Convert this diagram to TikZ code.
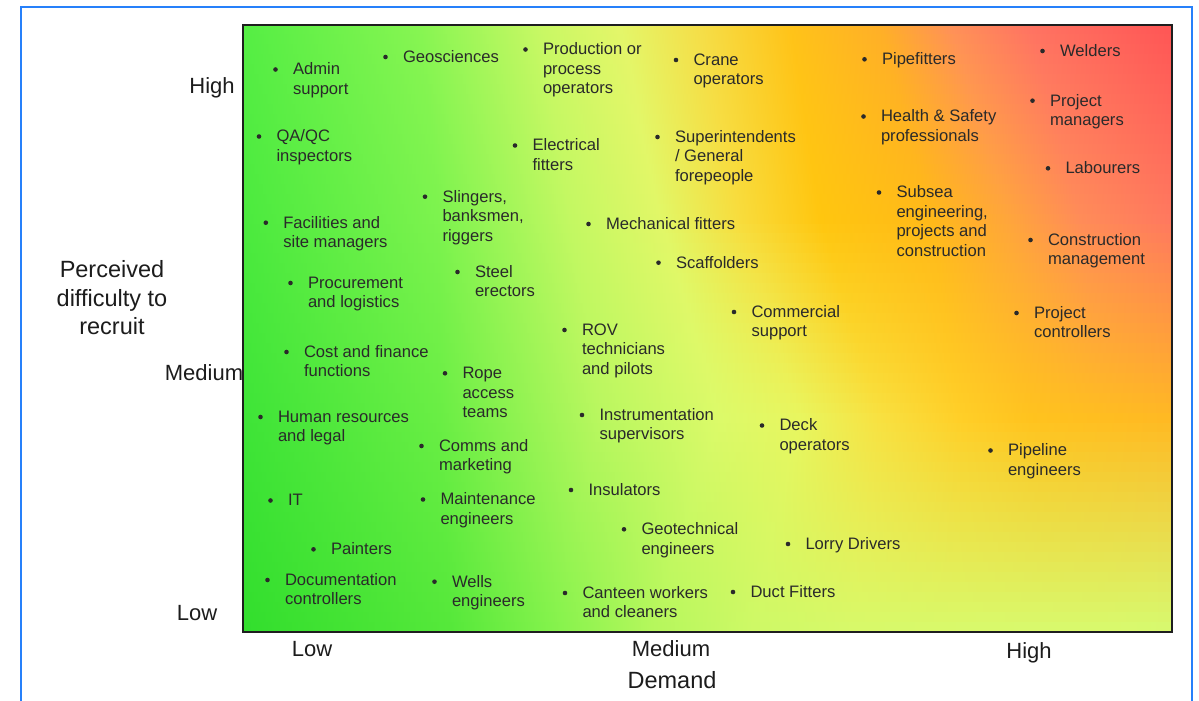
\documentclass[tikz,border=0pt]{standalone}
\usepackage{fontspec}
\usepackage{graphicx}
\setmainfont{Liberation Sans}
\definecolor{framecol}{RGB}{38,128,250}
\definecolor{jobcol}{RGB}{42,42,42}
\definecolor{lblcol}{RGB}{28,28,28}
\definecolor{boxcol}{RGB}{30,30,30}
% background key rows combined per segment: xa/ra/ga/ba/xb/rb/gb/bb
\def\bgsegA{243/85/238/68/243/75/234/62, 420/135/245/82/440/125/243/78, 540/200/248/100/570/195/248/98, 620/228/246/105/660/225/247/103, 700/245/222/72/740/248/220/60, 790/255/195/25/820/255/198/15, 880/255/175/40/930/255/185/25, 950/255/145/88/1010/255/165/60, 1030/255/115/98/1080/255/140/88, 1172/255/85/85/1172/255/120/95}
\def\bgsegB{243/75/234/62/243/62/228/55, 440/125/243/78/440/105/238/68, 570/195/248/98/600/185/247/95, 660/225/247/103/720/220/250/105, 740/248/220/60/800/232/246/95, 820/255/198/15/880/248/225/65, 930/255/185/25/960/255/207/40, 1010/255/165/60/1030/255/195/30, 1080/255/140/88/1100/255/190/32, 1172/255/120/95/1172/255/185/35}
\def\bgsegC{243/62/228/55/243/50/222/45, 440/105/238/68/450/85/232/58, 600/185/247/95/550/130/242/75, 720/220/250/105/650/180/247/92, 800/232/246/95/750/205/249/102, 880/248/225/65/850/215/250/106, 960/255/207/40/950/216/250/108, 1030/255/195/30/1050/216/250/110, 1100/255/190/32/1110/216/250/110, 1172/255/185/35/1172/215/250/112}
\tikzset{
  jobtext/.style={anchor=base west, inner sep=0pt, outer sep=0pt, text=jobcol,
    font=\fontsize{16.6}{19.5}\selectfont},
  axlbl/.style={anchor=base, inner sep=0pt, outer sep=0pt, text=lblcol,
    font=\fontsize{22}{28.5}\selectfont},
  plotframe/.style={draw=boxcol, line width=1.8pt},
  outerframe/.style={draw=framecol, line width=1.8pt}
}
\newcommand\jobitem[4]{%
  \node[jobtext] (#1) at (#2,#3+5.3) {\begin{tabular}[t]{@{}l@{}}#4\end{tabular}};
  \fill[jobcol] (#1.base west) ++(-17.5,-5.3) circle (2.3);
}
\begin{document}
\begin{tikzpicture}[x=1pt,y=-1pt]
\useasboundingbox (0,0) rectangle (1199,701);
\fill[white] (0,0) rectangle (1199,701);
% gradient background built from horizontal strips
\foreach \i in {0,...,60}{
  \pgfmathsetmacro\ytop{25+\i*9.95082}
  \pgfmathsetmacro\yc{\ytop+4.975}
  \ifdim\yc pt<220pt
    \let\bgseglist\bgsegA\pgfmathsetmacro\ff{(\yc-25)/195}
  \else\ifdim\yc pt<420pt
    \let\bgseglist\bgsegB\pgfmathsetmacro\ff{(\yc-220)/200}
  \else
    \let\bgseglist\bgsegC\pgfmathsetmacro\ff{(\yc-420)/212}
  \fi\fi
  \gdef\bgspec{}
  \foreach \qxa/\qra/\qga/\qba/\qxb/\qrb/\qgb/\qbb [count=\qk] in \bgseglist {
    \ifnum\qk=1 \def\pp{0}\else\ifnum\qk=10 \def\pp{100}\else
      \pgfmathsetmacro\pp{((1-\ff)*\qxa+\ff*\qxb-243)/9.29}\fi\fi
    \pgfmathsetmacro\colR{min(1,((1-\ff)*\qra+\ff*\qrb)/255)}
    \pgfmathsetmacro\colG{min(1,((1-\ff)*\qga+\ff*\qgb)/255)}
    \pgfmathsetmacro\colB{min(1,((1-\ff)*\qba+\ff*\qbb)/255)}
    \ifnum\qk=1 \xdef\bgspec{rgb(\pp pt)=(\colR,\colG,\colB)}%
    \else \xdef\bgspec{\bgspec; rgb(\pp pt)=(\colR,\colG,\colB)}\fi
  }
  \edef\bgtmp{\noexpand\pgfdeclarehorizontalshading{bgstrip\i}{10.6pt}{\bgspec}}\bgtmp
  \pgftext[at={\pgfpoint{243pt}{-\ytop pt}},left,top]{\scalebox{9.29}[1]{\pgfuseshading{bgstrip\i}}}
}
\draw[plotframe] (243,25) rectangle (1172,632);
\draw[outerframe] (21,712) -- (21,7) -- (1192,7) -- (1192,712);
% job items
\jobitem{a1}{293}{69.5}{Admin\\support}
\jobitem{a2}{403}{57}{Geosciences}
\jobitem{a3}{543}{49.5}{Production or\\process\\operators}
\jobitem{a4}{693.5}{60}{Crane\\operators}
\jobitem{a5}{882}{59.3}{Pipefitters}
\jobitem{a6}{1060}{51}{Welders}
\jobitem{a7}{276.5}{136.5}{QA/QC\\inspectors}
\jobitem{a8}{532.5}{145.5}{Electrical\\fitters}
\jobitem{a9}{675}{137}{Superintendents\\/ General\\forepeople}
\jobitem{a10}{881}{116.5}{Health \& Safety\\professionals}
\jobitem{a11}{1050}{100.7}{Project\\managers}
\jobitem{a12}{1065.5}{168.3}{Labourers}
\jobitem{a13}{442.5}{196.7}{Slingers,\\banksmen,\\riggers}
\jobitem{a14}{283.3}{222.7}{Facilities and\\site managers}
\jobitem{a15}{606}{224}{Mechanical fitters}
\jobitem{a16}{896.5}{192.5}{Subsea\\engineering,\\projects and\\construction}
\jobitem{a17}{1048}{240}{Construction\\management}
\jobitem{a18}{676}{262.7}{Scaffolders}
\jobitem{a19}{475}{272}{Steel\\erectors}
\jobitem{a20}{308}{283}{Procurement\\and logistics}
\jobitem{a21}{751.5}{312}{Commercial\\support}
\jobitem{a22}{1034}{313}{Project\\controllers}
\jobitem{a23}{582}{330}{ROV\\technicians\\and pilots}
\jobitem{a24}{304}{352}{Cost and finance\\functions}
\jobitem{a25}{462.5}{373.3}{Rope\\access\\teams}
\jobitem{a26}{278}{417}{Human resources\\and legal}
\jobitem{a27}{599.5}{415}{Instrumentation\\supervisors}
\jobitem{a28}{779.5}{425.5}{Deck\\operators}
\jobitem{a29}{439}{446}{Comms and\\marketing}
\jobitem{a30}{1008}{450.5}{Pipeline\\engineers}
\jobitem{a31}{288}{500.5}{IT}
\jobitem{a32}{440.5}{499.5}{Maintenance\\engineers}
\jobitem{a33}{588.5}{490}{Insulators}
\jobitem{a34}{641.5}{529.3}{Geotechnical\\engineers}
\jobitem{a35}{805.5}{544}{Lorry Drivers}
\jobitem{a36}{331}{549.3}{Painters}
\jobitem{a37}{285}{580}{Documentation\\controllers}
\jobitem{a38}{452}{581.7}{Wells\\engineers}
\jobitem{a39}{582.5}{593}{Canteen workers\\and cleaners}
\jobitem{a40}{750.5}{592}{Duct Fitters}
% axis labels
\node[axlbl, font=\fontsize{23.5}{28.5}\selectfont] (ytitle) at (112,277.8) {\begin{tabular}[t]{@{}c@{}}Perceived\\difficulty to\\recruit\end{tabular}};
\node[axlbl] (yhigh) at (212,93) {High};
\node[axlbl] (ymed) at (204,380.5) {Medium};
\node[axlbl] (ylow) at (197,620.5) {Low};
\node[axlbl] (xlow) at (312,656) {Low};
\node[axlbl] (xmed) at (671,656) {Medium};
\node[axlbl] (xhigh) at (1029,658) {High};
\node[axlbl, font=\fontsize{23.5}{28}\selectfont] (xtitle) at (672,688.5) {Demand};
\end{tikzpicture}
\end{document}
